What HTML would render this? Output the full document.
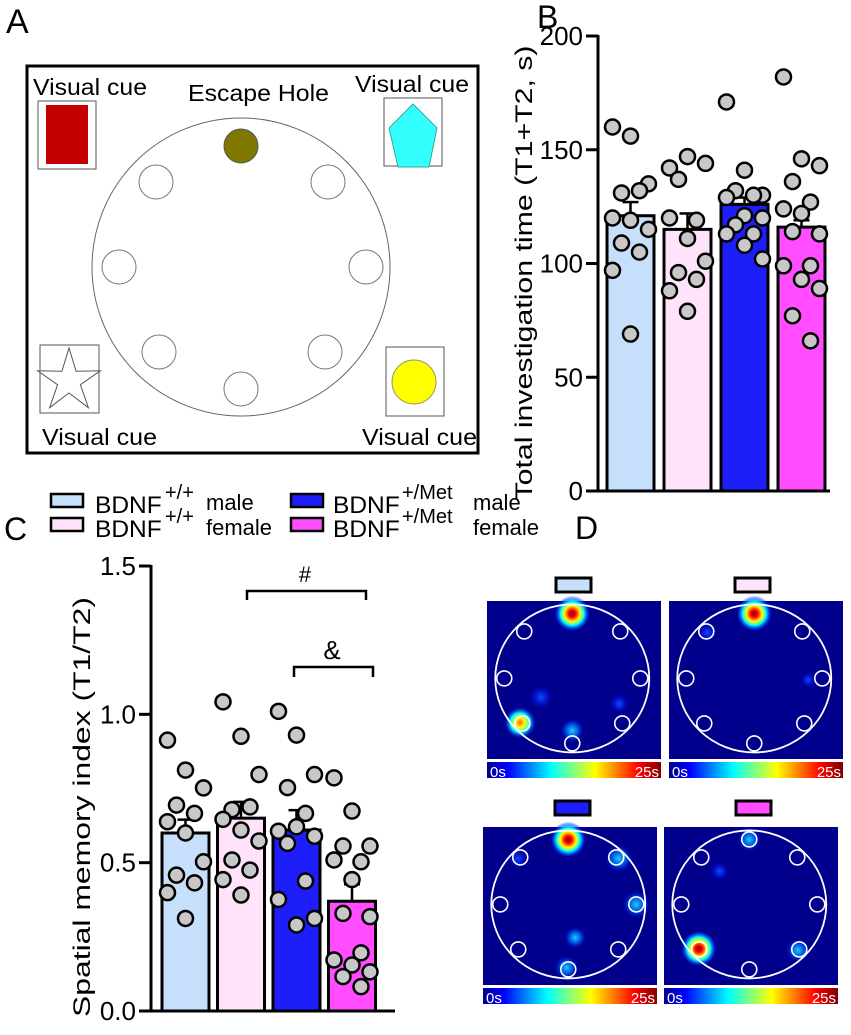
<!DOCTYPE html>
<html><head><meta charset="utf-8"><style>
html,body{margin:0;padding:0;background:#fff;}
svg{display:block;font-family:"Liberation Sans",Arial,sans-serif;}
</style></head><body>
<svg id="fig" width="851" height="1035" viewBox="0 0 851 1035" xmlns="http://www.w3.org/2000/svg">
<defs>
  <linearGradient id="jet" x1="0" x2="1" y1="0" y2="0">
    <stop offset="0" stop-color="#00008f"/><stop offset="0.12" stop-color="#0000ff"/>
    <stop offset="0.37" stop-color="#00ffff"/><stop offset="0.62" stop-color="#ffff00"/>
    <stop offset="0.87" stop-color="#ff0000"/><stop offset="1" stop-color="#800000"/>
  </linearGradient>
  <radialGradient id="hotRed"><stop offset="0" stop-color="#800000"/><stop offset="0.2" stop-color="#ff0000"/><stop offset="0.45" stop-color="#ffff00"/><stop offset="0.65" stop-color="#00ffff"/><stop offset="0.85" stop-color="#0050ff" stop-opacity="0.6"/><stop offset="1" stop-color="#0000ff" stop-opacity="0"/></radialGradient>
  <radialGradient id="hotOrange"><stop offset="0" stop-color="#ff6000"/><stop offset="0.3" stop-color="#ffff00"/><stop offset="0.6" stop-color="#00ffff"/><stop offset="1" stop-color="#0000ff" stop-opacity="0"/></radialGradient>
  <radialGradient id="hotCyan"><stop offset="0" stop-color="#20d0ff"/><stop offset="0.5" stop-color="#0080ff" stop-opacity="0.7"/><stop offset="1" stop-color="#0000ff" stop-opacity="0"/></radialGradient>
  <radialGradient id="hotBlue"><stop offset="0" stop-color="#1050ff"/><stop offset="1" stop-color="#0000ff" stop-opacity="0"/></radialGradient>
</defs>

<!-- Panel A -->
<g>
  <text x="6" y="33" font-size="34">A</text>
  <rect x="27" y="66" width="451" height="387" fill="none" stroke="#000" stroke-width="3"/>
  <circle cx="241" cy="267" r="149" fill="none" stroke="#666" stroke-width="1"/>
  <circle cx="241" cy="146" r="17" fill="#807700" stroke="#555" stroke-width="1"/>
  <g fill="none" stroke="#777" stroke-width="1">
    <circle cx="156" cy="182" r="17"/><circle cx="328" cy="182" r="17"/>
    <circle cx="119" cy="267" r="17"/><circle cx="366" cy="267" r="17"/>
    <circle cx="159" cy="352" r="17"/><circle cx="325" cy="352" r="17"/>
    <circle cx="241" cy="389" r="17"/>
  </g>
  <rect x="38" y="101" width="58" height="68" fill="#fff" stroke="#555"/>
  <rect x="46" y="105" width="42" height="59" fill="#c40000"/>
  <rect x="384" y="98" width="58" height="68" fill="#fff" stroke="#555"/>
  <polygon points="413,104 437,128 429,167 398,167 389,128" fill="#33ffff" stroke="#3a9"/>
  <rect x="40" y="345" width="59" height="68" fill="#fff" stroke="#555"/>
  <polygon id="star" fill="#fff" stroke="#555"/>
  <rect x="386" y="347" width="58" height="69" fill="#fff" stroke="#555"/>
  <circle cx="414" cy="382" r="22" fill="#ffff00" stroke="#996"/>
  <g font-size="23">
    <text x="33" y="95" textLength="114" lengthAdjust="spacingAndGlyphs">Visual cue</text>
    <text x="355" y="92" textLength="114" lengthAdjust="spacingAndGlyphs">Visual cue</text>
    <text x="42" y="445" textLength="115" lengthAdjust="spacingAndGlyphs">Visual cue</text>
    <text x="362" y="445" textLength="115" lengthAdjust="spacingAndGlyphs">Visual cue</text>
  </g>
  <text x="188" y="101" font-size="23" textLength="141" lengthAdjust="spacingAndGlyphs">Escape Hole</text>
</g>

<!-- Panel B -->
<g id="panelB">
  <text x="537" y="28" font-size="32">B</text>
  <text transform="translate(532,273) rotate(-90)" text-anchor="middle" font-size="24" textLength="455" lengthAdjust="spacingAndGlyphs">Total investigation time (T1+T2, s)</text>
</g>

<!-- Legend -->
<g>
  <text x="4" y="540" font-size="32">C</text>
  <g>
    <rect x="51" y="494" width="32" height="13" fill="#c6e0fb" stroke="#000" stroke-width="2.5"/>
    <text x="95" y="513" font-size="24.5">BDNF</text><text x="165" y="499" font-size="20">+/+</text><text x="206" y="510" font-size="22">male</text>
  </g>
  <g>
    <rect x="51" y="518" width="32" height="13" fill="#ffe3fb" stroke="#000" stroke-width="2.5"/>
    <text x="95" y="537" font-size="24.5">BDNF</text><text x="165" y="523" font-size="20">+/+</text><text x="206" y="535" font-size="22">female</text>
  </g>
  <g>
    <rect x="291" y="494" width="32" height="13" fill="#1e1efa" stroke="#000" stroke-width="2.5"/>
    <text x="333" y="513" font-size="24.5">BDNF</text><text x="402" y="499" font-size="20">+/Met</text><text x="473" y="510" font-size="22">male</text>
  </g>
  <g>
    <rect x="291" y="518" width="32" height="13" fill="#ff4dff" stroke="#000" stroke-width="2.5"/>
    <text x="333" y="537" font-size="24.5">BDNF</text><text x="402" y="523" font-size="20">+/Met</text><text x="473" y="535" font-size="22">female</text>
  </g>
</g>

<!-- Panel C -->
<g id="panelC">
  <text transform="translate(90,807) rotate(-90)" text-anchor="middle" font-size="24" textLength="420" lengthAdjust="spacingAndGlyphs">Spatial memory index (T1/T2)</text>
  <g>
    <polyline points="247,600 247,591 366,591 366,600" fill="none" stroke="#000" stroke-width="2.5"/>
    <text x="305" y="582" font-size="22" text-anchor="middle">#</text>
  </g>
  <g>
    <polyline points="294,677 294,667 373,667 373,677" fill="none" stroke="#000" stroke-width="2.5"/>
    <text x="332" y="659" font-size="26" text-anchor="middle">&amp;</text>
  </g>
</g>

<!-- Panel D -->
<g id="panelD">
  <text x="575" y="539" font-size="32">D</text>
</g>
</svg>
<script>
const NS='http://www.w3.org/2000/svg';
const colors=['#c6e0fb','#ffe3fb','#1e1efa','#ff4dff'];
// Panel B data
const bTicks=[0,50,100,150,200];
const bMeans=[121,115,126,116];
const bSem=[6,7,3,3];
const bDots1=[160,156,135,131,132,120,119,115,109,105,97,69];
const bDots2=[142,147,144,137,119,120,111,101,96,93,88,79];
const bDots3=[171,141,130,132,130,129,121,120,117,113,113,108,102];
const bDots4=[182,146,143,136,127,124,122,113,114,99,99,93,89,77,66];
// Panel C data
const cTicks=[0,0.5,1.0,1.5];
const cTickLabels=['0.0','0.5','1.0','1.5'];
const cMeans=[0.60,0.65,0.61,0.37];
const cSem=[0.045,0.055,0.067,0.057];
const cDots1=[0.913,0.812,0.752,0.694,0.666,0.638,0.60,0.503,0.458,0.432,0.399,0.312];
const cDots2=[1.042,0.926,0.797,0.679,0.688,0.646,0.61,0.573,0.509,0.475,0.443,0.391];
const cDots3=[1.01,0.93,0.797,0.753,0.666,0.606,0.621,0.589,0.565,0.438,0.376,0.29,0.312];
const cDots4=[0.786,0.674,0.556,0.556,0.503,0.509,0.443,0.318,0.329,0.196,0.172,0.155,0.132,0.116,0.082];

function mk(tag,attrs,parent){const e=document.createElementNS(NS,tag);for(const k in attrs)e.setAttribute(k,attrs[k]);parent.appendChild(e);return e;}

function drawBarChart(g,o){
  const y=v=>o.y0-(v-o.min)/(o.max-o.min)*(o.y0-o.y1);
  const ax=mk('line',{x1:o.ax,y1:o.y1-1,x2:o.ax,y2:o.y0+1.5,stroke:'#000','stroke-width':3},g);
  
  
  const xa=mk('line',{x1:o.ax-12,y1:o.y0,x2:o.xEnd,y2:o.y0,stroke:'#000','stroke-width':3},g);
  
  
  o.ticks.forEach((t,i)=>{
    const tk=mk('line',{x1:o.ax-12,y1:y(t),x2:o.ax,y2:y(t),stroke:'#000','stroke-width':3},g);
    
    
    const tl=mk('text',{x:o.ax-15,y:y(t)+9,'text-anchor':'end','font-size':26},g);
    tl.textContent=o.labels[i];
    
    
  });
  o.means.forEach((m,i)=>{
    const x0=o.bx+i*o.step, cx=x0+o.bw/2;
    const eb=mk('line',{x1:cx,y1:y(m),x2:cx,y2:y(m+o.sem[i]),stroke:'#000','stroke-width':2.5},g);
    
    
    const ec=mk('line',{x1:cx-8,y1:y(m+o.sem[i]),x2:cx+8,y2:y(m+o.sem[i]),stroke:'#000','stroke-width':2.5},g);
    
    
    const r=mk('rect',{x:x0,y:y(m),width:o.bw,height:o.y0-y(m),fill:colors[i],stroke:'#000','stroke-width':3},g);
    
    
  });
  o.dots.forEach((arr,i)=>{
    const cx=o.bx+i*o.step+o.bw/2;
    arr.forEach((v,j)=>{
      const off=((j*7)%5-2)*9;
      const c=mk('circle',{cx:cx+off,cy:y(v),r:7.5,fill:'#c8c8c8',stroke:'#000','stroke-width':2.5},g);
      
      
    });
  });
}
drawBarChart(document.getElementById('panelB'),{min:0,max:200,y0:491,y1:36,ax:598,xEnd:830,bx:607,bw:47,step:57,ticks:bTicks,labels:bTicks.map(String),means:bMeans,sem:bSem,dots:[bDots1,bDots2,bDots3,bDots4]});
drawBarChart(document.getElementById('panelC'),{min:0,max:1.5,y0:1011,y1:566,ax:151,xEnd:395,bx:162,bw:47,step:55.5,ticks:cTicks,labels:cTickLabels,means:cMeans,sem:cSem,dots:[cDots1,cDots2,cDots3,cDots4]});

// star
(function(){const pts=[];for(let k=0;k<10;k++){const a=-Math.PI/2+k*Math.PI/5;const r=k%2?12:33;pts.push((69+r*Math.cos(a)).toFixed(1)+','+(381+r*Math.sin(a)).toFixed(1));}document.getElementById('star').setAttribute('points',pts.join(' '));})();

// Panel D heatmaps
const D=document.getElementById('panelD');
const maps=[
 {x:487,y:601,lx:556,ly:578,c:0,spots:[['hotRed',0.49,0.08,18],['hotOrange',0.19,0.77,16],['hotCyan',0.49,0.82,12],['hotBlue',0.31,0.61,12],['hotBlue',0.76,0.65,10]],top:false},
 {x:669,y:601,lx:735,ly:578,c:1,spots:[['hotRed',0.49,0.08,18],['hotBlue',0.22,0.2,10],['hotBlue',0.8,0.5,8]],top:false},
 {x:483,y:827,lx:555,ly:801,c:2,spots:[['hotRed',0.49,0.08,18],['hotCyan',0.78,0.2,14],['hotCyan',0.88,0.49,14],['hotCyan',0.48,0.89,12],['hotCyan',0.53,0.7,11],['hotBlue',0.2,0.2,10]],top:false},
 {x:664,y:827,lx:736,ly:801,c:3,spots:[['hotRed',0.2,0.77,18],['hotCyan',0.49,0.08,12],['hotCyan',0.77,0.78,12],['hotBlue',0.32,0.28,10]],top:true}
];
maps.forEach((m,i)=>{
  const w=174,h=158;
  const lab=mk('rect',{x:m.lx,y:m.ly,width:35,height:14,fill:colors[m.c],stroke:'#000','stroke-width':3},D);
  
  
  const bg=mk('rect',{x:m.x,y:m.y,width:w,height:h,fill:'#00008c'},D);
  
  
  m.spots.forEach(s=>{
    const sp=mk('circle',{cx:m.x+s[1]*w,cy:m.y+s[2]*h,r:s[3],fill:'url(#'+s[0]+')'},D);
    
    
  });
  const cx=m.x+w*0.49, cy=m.y+h*0.49;
  const ring=mk('ellipse',{cx:cx,cy:cy,rx:77,ry:74,fill:'none',stroke:'#fff','stroke-width':1.8},D);
  
  
  const holes=[[-48,-47],[48,-47],[-68,0],[68,0],[-50,45],[50,45],[0,65]];
  if(m.top) holes.push([0,-65]);
  holes.forEach(p=>{
    const hc=mk('circle',{cx:cx+p[0],cy:cy+p[1],r:7.5,fill:'none',stroke:'#fff','stroke-width':1.6},D);
    
    
  });
  const cb=mk('rect',{x:m.x,y:m.y+161,width:w,height:16,fill:'url(#jet)'},D);
  
  
  const t0=mk('text',{x:m.x+3,y:m.y+176,'font-size':15,fill:'#fff'},D);
  t0.textContent='0s';
  
  
  const t1=mk('text',{x:m.x+w-2,y:m.y+176,'font-size':15,fill:'#fff','text-anchor':'end'},D);
  t1.textContent='25s';
  
  
});
</script>
</body></html>
